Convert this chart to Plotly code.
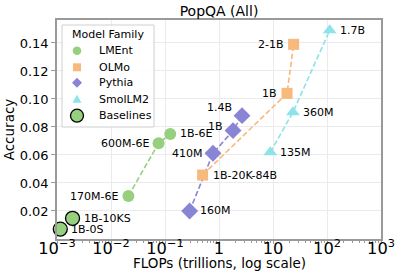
import numpy as np
import plotly.graph_objects as go

# ---- data ----
lment_names = ["170M-6E", "600M-6E", "1B-6E"]
lment_flops = [0.021, 0.076, 0.125]
lment_acc = [0.0307, 0.0684, 0.075]

olmo_names = ["1B-20K-84B", "1B", "2-1B"]
olmo_flops = [0.497, 18.2, 24.1]
olmo_acc = [0.0457, 0.104, 0.139]

pythia_names = ["160M", "410M", "1B", "1.4B"]
pythia_flops = [0.286, 0.774, 1.82, 2.67]
pythia_acc = [0.020, 0.0612, 0.0774, 0.0881]

smol_names = ["135M", "360M", "1.7B"]
smol_flops = [8.9, 23.4, 112.0]
smol_acc = [0.0619, 0.0905, 0.149]

base_names = ["1B-0S", "1B-10KS"]
base_flops = [0.00115, 0.00194]
base_acc = [0.0071, 0.0148]

y_ticks = [0.02, 0.04, 0.06, 0.08, 0.10, 0.12, 0.14]
y_tick_text = ["0.02", "0.04", "0.06", "0.08", "0.10", "0.12", "0.14"]

legend_title = "Model Family"
legend_names = ["LMEnt", "OLMo", "Pythia", "SmolLM2", "Baselines"]

GREEN = "#96d07e"
ORANGE = "#f7b97c"
PURPLE = "#8985d4"
CYAN = "#8ce3e8"
FONT = "DejaVu Sans"
DASH = "5.5px,2.5px"

# plot area geometry (pixels)
W, H = 399, 279
ML, MR, MT, MB = 57, 18, 20, 40
PW, PH = W - ML - MR, H - MT - MB


def px_to_paper(xp, yp):
    return (xp - ML) / PW, (H - MB - yp) / PH


fig = go.Figure()

families = [
    ("LMEnt", lment_names, lment_flops, lment_acc, GREEN, "circle", 12),
    ("OLMo", olmo_names, olmo_flops, olmo_acc, ORANGE, "square", 11),
    ("Pythia", pythia_names, pythia_flops, pythia_acc, PURPLE, "diamond", 13),
    ("SmolLM2", smol_names, smol_flops, smol_acc, CYAN, "triangle-up", 12),
]

for name, labels, xs, ys, col, sym, sz in families:
    fig.add_trace(go.Scatter(x=xs, y=ys, mode="lines", showlegend=False,
                             line=dict(color=col, width=1.6, dash=DASH),
                             hoverinfo="skip"))
for name, labels, xs, ys, col, sym, sz in families:
    fig.add_trace(go.Scatter(x=xs, y=ys, mode="markers", name=name, showlegend=False,
                             marker=dict(color=col, symbol=sym, size=sz,
                                         line=dict(width=0))))

fig.add_trace(go.Scatter(x=base_flops, y=base_acc, mode="markers", name="Baselines",
                         cliponaxis=False, showlegend=False,
                         marker=dict(color=GREEN, symbol="circle", size=14,
                                     line=dict(width=1.3, color="black"))))

# ---- point labels ----
label_side = {
    ("LMEnt", "170M-6E"): "left", ("LMEnt", "600M-6E"): "left", ("LMEnt", "1B-6E"): "right",
    ("OLMo", "1B-20K-84B"): "right", ("OLMo", "1B"): "left", ("OLMo", "2-1B"): "left",
    ("Pythia", "160M"): "right", ("Pythia", "410M"): "left", ("Pythia", "1B"): "left",
    ("Pythia", "1.4B"): "left",
    ("SmolLM2", "135M"): "right", ("SmolLM2", "360M"): "right", ("SmolLM2", "1.7B"): "right",
}
label_dy = {("Pythia", "1.4B"): -8, ("Pythia", "1B"): -4}

for name, labels, xs, ys, col, sym, sz in families:
    for lab, xv, yv in zip(labels, xs, ys):
        side = label_side[(name, lab)]
        fig.add_annotation(x=np.log10(xv), y=yv, text=lab, showarrow=False,
                           xanchor="left" if side == "right" else "right",
                           xshift=8 if side == "right" else -8,
                           yshift=-label_dy.get((name, lab), 0),
                           font=dict(size=11, color="black", family=FONT))
for lab, xv, yv in zip(base_names, base_flops, base_acc):
    fig.add_annotation(x=np.log10(xv), y=yv, text=lab, showarrow=False,
                       xanchor="left", xshift=9,
                       font=dict(size=11, color="black", family=FONT))

# ---- custom legend (matplotlib-like compact legend) ----
bx0, by0 = px_to_paper(62, 127)
bx1, by1 = px_to_paper(154, 25)
fig.add_shape(type="rect", xref="paper", yref="paper", x0=bx0, x1=bx1, y0=by0, y1=by1,
              line=dict(color="#d0d0d0", width=1), fillcolor="rgba(255,255,255,0.85)",
              layer="above")
tx, ty = px_to_paper(108, 34)
fig.add_annotation(xref="paper", yref="paper", x=tx, y=ty, text=legend_title,
                   showarrow=False, xanchor="center", yanchor="middle",
                   font=dict(size=11, family=FONT, color="black"))
item_y_px = [50.7, 67.3, 82.7, 99.3, 115.7]
sym_x_px, text_x_px = 77, 97
legend_styles = [(GREEN, "circle", None), (ORANGE, "square", None), (PURPLE, "diamond", None),
                 (CYAN, "triangle", None), (GREEN, "bigcircle", "black")]
for lname, iy, (col, kind, edge) in zip(legend_names, item_y_px, legend_styles):
    sx, sy = px_to_paper(sym_x_px, iy)
    common = dict(xref="paper", yref="paper", xsizemode="pixel", ysizemode="pixel",
                  xanchor=sx, yanchor=sy, fillcolor=col, layer="above")
    if kind == "circle":
        fig.add_shape(type="circle", x0=-4.3, x1=4.3, y0=-4.3, y1=4.3,
                      line=dict(width=0, color=col), **common)
    elif kind == "square":
        fig.add_shape(type="rect", x0=-4, x1=4, y0=-4, y1=4,
                      line=dict(width=0, color=col), **common)
    elif kind == "diamond":
        fig.add_shape(type="path", path="M 0 5 L 5 0 L 0 -5 L -5 0 Z",
                      line=dict(width=0, color=col), **common)
    elif kind == "triangle":
        fig.add_shape(type="path", path="M -4.5 -3.5 L 4.5 -3.5 L 0 4.5 Z",
                      line=dict(width=0, color=col), **common)
    else:
        fig.add_shape(type="circle", x0=-6.5, x1=6.5, y0=-6.5, y1=6.5,
                      line=dict(width=1.3, color=edge), **common)
    lx, ly = px_to_paper(text_x_px, iy)
    fig.add_annotation(xref="paper", yref="paper", x=lx, y=ly, text=lname,
                       showarrow=False, xanchor="left", yanchor="middle",
                       font=dict(size=11, family=FONT, color="black"))

# x-axis title placed as annotation for precise placement
xt_x, xt_y = px_to_paper(219, 263)
fig.add_annotation(xref="paper", yref="paper", x=0.5, y=xt_y,
                   text="FLOPs (trillions, log scale)", showarrow=False,
                   xanchor="center", yanchor="middle",
                   font=dict(size=13.5, family=FONT, color="black"))

fig.update_layout(
    width=W, height=H,
    margin=dict(l=ML, r=MR, t=MT, b=MB, autoexpand=False),
    paper_bgcolor="white", plot_bgcolor="white",
    font=dict(family=FONT, size=12, color="black"),
    title=dict(text="PopQA (All)", x=0.5, xref="paper", xanchor="center",
               y=1 - 11.5 / H, yref="container", yanchor="middle", pad=dict(t=0, b=0),
               font=dict(size=14, family=FONT)),
    showlegend=False,
)

fig.update_xaxes(type="log", range=[-3, 3], dtick=1, exponentformat="power",
                 automargin=False, ticklabelstandoff=-9,
                 showgrid=True, gridcolor="#ebebeb", gridwidth=1,
                 showline=True, linecolor="#9a9a9a", linewidth=1.5, mirror=True,
                 ticks="outside", ticklen=3, tickcolor="#9a9a9a",
                 minor=dict(ticks="outside", ticklen=2, tickcolor="#9a9a9a", showgrid=False),
                 tickfont=dict(size=13, family=FONT),
                 zeroline=False)
fig.update_yaxes(range=[0.0, 0.1564], tickvals=y_ticks, ticktext=y_tick_text,
                 automargin=False,
                 showgrid=True, gridcolor="#ebebeb", gridwidth=1,
                 showline=True, linecolor="#9a9a9a", linewidth=1.5, mirror=True,
                 ticks="outside", ticklen=4, tickcolor="#9a9a9a",
                 tickfont=dict(size=13, family=FONT),
                 title=dict(text="Accuracy", font=dict(size=13.5, family=FONT), standoff=2),
                 zeroline=False)

fig.write_html("out.html", config={"displayModeBar": False},
               post_script="document.body.style.margin='0px';")
